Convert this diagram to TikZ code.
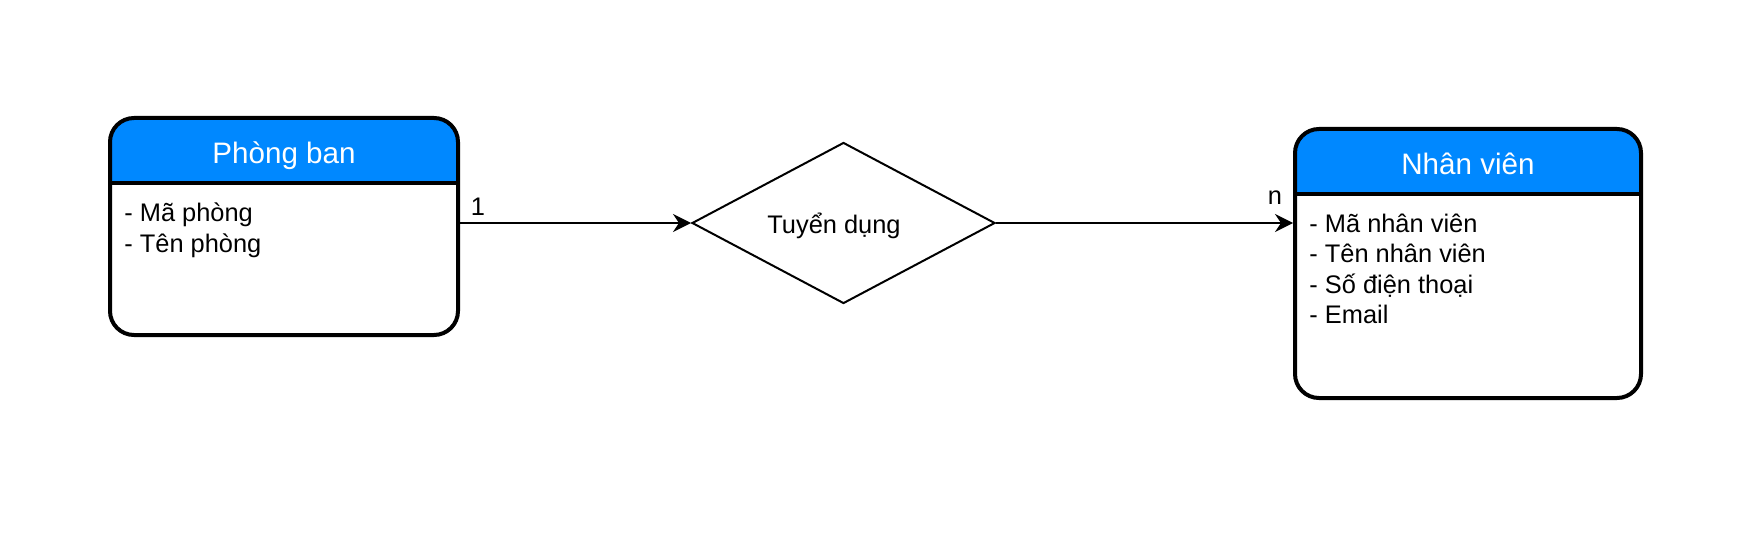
\documentclass[tikz,border=0pt]{standalone}
\usepackage{fontspec}
\setmainfont{Liberation Sans}
\usetikzlibrary{shapes.geometric,arrows.meta}
\definecolor{hdrblue}{RGB}{0,136,255}

\tikzset{
  entity/.style={draw, line width=2pt, rounded corners=12pt, fill=white, inner sep=0pt,
    path picture={\fill[hdrblue, sharp corners] (path picture bounding box.north west) rectangle ([yshift=-32.5pt]path picture bounding box.north east);}},
  divider/.style={line width=2pt},
  title/.style={font=\fontsize{14.8}{17}\selectfont, text=white, anchor=base, inner sep=0pt},
  attr/.style={font=\fontsize{12.7}{15}\selectfont, anchor=base west, inner sep=0pt},
  rel/.style={diamond, draw, line width=1pt, inner sep=0pt, aspect=1.88,
    minimum width=151.5pt, minimum height=80.5pt},
  conn/.style={line width=1pt, -{Stealth[length=9pt,width=9pt,inset=3pt]}},
}

\begin{document}
\begin{tikzpicture}[x=0.5pt,y=-0.5pt]
\useasboundingbox (0,0) rectangle (1756,556);
% entities
\node[entity, minimum width=174pt, minimum height=108.5pt] (pb) at (284,226.5) {};
\node[entity, minimum width=173pt, minimum height=134.5pt] (nv) at (1468,263.5) {};
\draw[divider] ([yshift=-33.5pt]pb.north west) -- ([yshift=-33.5pt]pb.north east);
\draw[divider] ([yshift=-33.5pt]nv.north west) -- ([yshift=-33.5pt]nv.north east);
\node[title] (pb-title) at (284,163.3) {Phòng ban};
\node[title] (nv-title) at (1468,175) {Nhân viên};
\foreach \t [count=\i from 0] in {- Mã phòng, - Tên phòng}
  \node[attr] (pb-\i) at (124,{221.7+30.6*\i}) {\t};
\foreach \t [count=\i from 0] in {- Mã nhân viên, - Tên nhân viên, - Số điện thoại, - Email}
  \node[attr] (nv-\i) at (1309,{232.7+30.2*\i}) {\t};
% relationship
\node[rel] (td) at (843.5,223) {};
\node[attr, anchor=base] (td-label) at (834,233.3) {Tuyển dụng};
\draw[conn] (pb.east |- td) -- (td.west);
\draw[conn] (td.east) -- (nv.west |- td);
\node[attr, anchor=base] (card-1) at (478,215) {1};
\node[attr, anchor=base] (card-n) at (1275,205) {n};
\end{tikzpicture}
\end{document}
